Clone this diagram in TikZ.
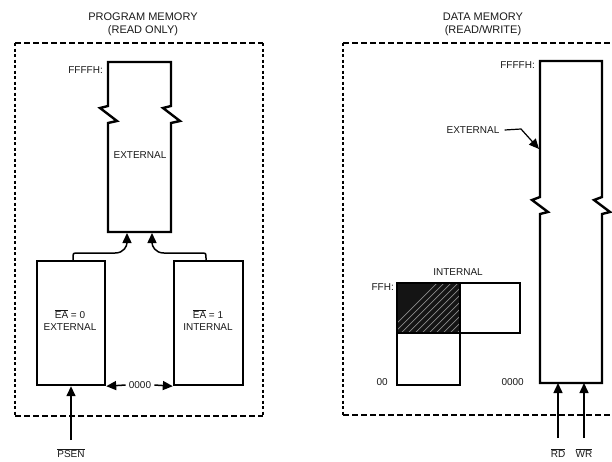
\documentclass[tikz,border=0pt]{standalone}
\usepackage{fontspec}
\setmainfont{Liberation Sans}
\usetikzlibrary{arrows.meta}
\newcommand{\ovl}[1]{$\overline{\mbox{#1}}$}
\begin{document}
\begin{tikzpicture}[x=1pt,y=-1pt,
  blk/.style={line width=2.4pt},
  hdash/.style={line width=1.3pt, dash pattern=on 6pt off 3pt},
  vdash/.style={line width=1.3pt, dash pattern=on 3pt off 2.5pt},
  lbl/.style={font=\fontsize{10}{12}\selectfont, inner sep=0pt, text=black!90},
  ttl/.style={font=\fontsize{11}{13}\selectfont, align=center, inner sep=0pt, text=black!90},
  arr/.style={line width=1.5pt, -{Triangle[length=10pt,width=9pt]}},
]
\useasboundingbox (0,0) rectangle (612,461);

% ---------------- titles
\node[ttl] (pt) at (143,24) {PROGRAM MEMORY\\(READ ONLY)};
\node[ttl] (dt) at (483,24) {DATA MEMORY\\(READ/WRITE)};

% ---------------- dashed frames
\draw[hdash] (15,43) -- (263,43);
\draw[hdash] (15,416) -- (263,416);
\draw[vdash] (15,43) -- (15,416);
\draw[vdash] (263,43) -- (263,416);
\draw[hdash] (343,43) -- (612,43);
\draw[hdash] (343,415) -- (612,415);
\draw[vdash] (343,43) -- (343,415);

% ---------------- program memory: external block
\draw[blk] (108,232) -- (108,123) -- (117,121) -- (100,108) -- (108,106) -- (108,62)
  -- (171,62) -- (171,106) -- (163,108) -- (180,121) -- (171,123) -- (171,232) -- cycle;
\node[lbl] (ext) at (140,155) {EXTERNAL};
\node[lbl, anchor=east] (pfff) at (103,70) {FFFFH:};
\coordinate (ext1) at (127,233);
\coordinate (ext2) at (152,233);

% ---------------- EA blocks
\node[draw, blk, minimum width=68pt, minimum height=124pt, inner sep=0pt] (ea0) at (71,323) {};
\node[draw, blk, minimum width=69pt, minimum height=124pt, inner sep=0pt] (ea1) at (208.5,323) {};
\node[lbl, align=center] (ea0t) at (70,320) {\ovl{EA} = 0\\EXTERNAL};
\node[lbl, align=center] (ea1t) at (208,320) {\ovl{EA} = 1\\INTERNAL};
\coordinate (a1) at (73,261);
\coordinate (a2) at (206,261);

\draw[arr] (a1) -- (73,258) .. controls (73,253) .. (78,253) -- (115,253)
  .. controls (124,253) and (127,246) .. (ext1);
\draw[arr] (a2) -- (206,258) .. controls (206,253) .. (201,253) -- (164,253)
  .. controls (155,253) and (152,246) .. (ext2);

\node[lbl] (z0) at (140,385) {0000};
\draw[arr] ([xshift=-3pt]z0.west) -- (ea0.south east);
\draw[arr] ([xshift=3pt]z0.east) -- (ea1.south west);

\node[lbl] (psen) at (71,453) {\ovl{PSEN}};
\coordinate (pst) at (71,440);
\draw[arr] (pst) -- (ea0.south -| pst);

% ---------------- data memory: external block
\draw[blk] (540,383) -- (540,214) -- (548,212) -- (532,200) -- (540,197) -- (540,61)
  -- (602,61) -- (602,197) -- (594,200) -- (610,212) -- (602,214) -- (602,383) -- cycle;
\node[lbl, anchor=east] (dfff) at (535,65) {FFFFH:};
\node[lbl] (dext) at (473,130) {EXTERNAL};
\coordinate (dtip) at (539,149);
\draw[line width=1.2pt, -{Triangle[length=10pt,width=9pt]}] ([xshift=5pt]dext.east) -- (521,129) -- (dtip);
\node[lbl, anchor=east] (d0) at (524,382) {0000};
\coordinate (rdb) at (558,383);
\coordinate (wrb) at (584,383);
\node[lbl] (rd) at (558,453) {\ovl{RD}};
\node[lbl] (wr) at (584,453) {\ovl{WR}};
\coordinate (rdt) at (558,438);
\coordinate (wrt) at (584,438);
\draw[arr] (rdt) -- (rdb);
\draw[arr] (wrt) -- (wrb);

% ---------------- internal data memory
\begin{scope}
  \clip (397,283) rectangle (460,333);
  \fill[black!92] (397,283) rectangle (460,333);
  \foreach \i in {40,47,...,120} {
    \draw[black!45, line width=0.7pt] (397+\i-55,338) -- (397+\i,283);
  }
\end{scope}
\node[draw, blk, minimum width=63pt, minimum height=50pt, inner sep=0pt] (hat) at (428.5,308) {};
\node[draw, blk, minimum width=60pt, minimum height=50pt, inner sep=0pt] (irt) at (490,308) {};
\node[draw, blk, minimum width=63pt, minimum height=52pt, inner sep=0pt] (ibt) at (428.5,359) {};
\node[lbl] (intl) at (458,272) {INTERNAL};
\node[lbl, anchor=east] (ffh) at (394,287) {FFH:};
\node[lbl, anchor=east] (z00) at (388,382) {00};
\end{tikzpicture}
\end{document}
